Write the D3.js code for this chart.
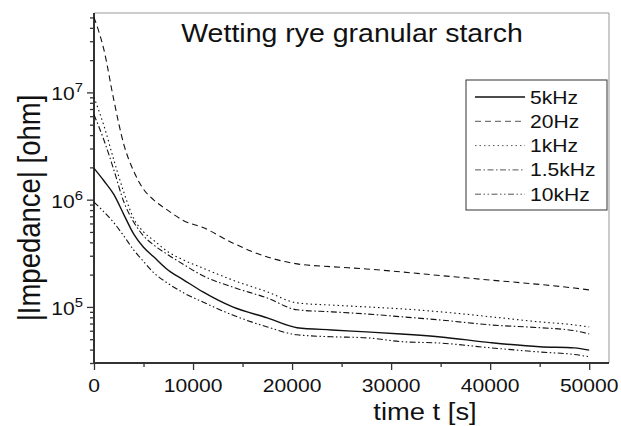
<!DOCTYPE html>
<html>
<head>
<meta charset="utf-8">
<script src="https://cdn.jsdelivr.net/npm/d3@7"></script>
<style>
  body { margin: 0; background: #fff; }
  text { font-family: "Liberation Sans", Arial, sans-serif; fill: #111; }
</style>
</head>
<body>
<div id="canvas"></div>
<script>
"use strict"

/* Data */
let times = [0, 1000, 2000, 3000, 4000, 5000, 6000, 7500, 9000, 11000, 14000,
    17500, 20500, 24000, 27500, 31000, 35000, 40000, 45000, 48500, 50000];
let z5kHz = [1.96e6, 1.5e6, 1.12e6, 7.3e5, 4.8e5, 3.6e5, 2.95e5, 2.2e5, 1.8e5, 1.38e5, 1.0e5,
    7.9e4, 6.4e4, 6.1e4, 5.85e4, 5.6e4, 5.25e4, 4.65e4, 4.25e4, 4.15e4, 3.95e4];
let z20Hz = [5.0e7, 2.5e7, 8.5e6, 3.3e6, 1.85e6, 1.25e6, 1.0e6, 7.9e5, 6.4e5, 5.5e5, 3.95e5,
    2.92e5, 2.52e5, 2.37e5, 2.26e5, 2.12e5, 1.96e5, 1.78e5, 1.62e5, 1.5e5, 1.44e5];
let z1kHz = [9.0e6, 4.9e6, 2.35e6, 1.18e6, 6.7e5, 5.0e5, 4.2e5, 3.25e5, 2.75e5, 2.3e5, 1.78e5,
    1.38e5, 1.09e5, 1.04e5, 1.0e5, 9.6e4, 9.0e4, 8.1e4, 7.25e4, 6.8e4, 6.5e4];
let z15kHz = [6.2e6, 3.6e6, 1.9e6, 9.6e5, 6.2e5, 4.6e5, 3.8e5, 3.05e5, 2.5e5, 1.95e5, 1.53e5,
    1.21e5, 9.4e4, 9.0e4, 8.6e4, 8.1e4, 7.55e4, 6.8e4, 6.4e4, 6.0e4, 5.6e4];
let z10kHz = [9.5e5, 7.7e5, 6.1e5, 4.6e5, 3.4e5, 2.65e5, 2.1e5, 1.65e5, 1.36e5, 1.11e5, 8.4e4,
    6.5e4, 5.5e4, 5.27e4, 5.15e4, 4.75e4, 4.6e4, 4.16e4, 3.8e4, 3.6e4, 3.43e4];
let seriesNames = ["5kHz", "20Hz", "1kHz", "1.5kHz", "10kHz"];
let seriesValues = [z5kHz, z20Hz, z1kHz, z15kHz, z10kHz];
let xTicks = [0, 10000, 20000, 30000, 40000, 50000];
let yTickExp = [5, 6, 7];

/* Drawing configuration */
let svgWidth = 621;
let svgHeight = 426;
let plotLeft = 94, plotRight = 609, plotTop = 13, plotBottom = 363;
let sx = 1.14; // the reference text is stretched horizontally
let dashes = [null, "6,4", "1.5,3", "6,2.5,1.5,2.5", "6,2.5,1.5,2.5,1.5,2.5"];

let svg = d3.select("#canvas")
    .append("svg")
    .attr("width", svgWidth)
    .attr("height", svgHeight);

let xScale = d3.scaleLinear()
    .domain([0, 52000])
    .range([plotLeft, plotRight]);

let yScale = d3.scaleLog()
    .domain([3e4, 5.5e7])
    .range([plotBottom, plotTop]);

/* helper for stretched text */
function label(x, y, str, size, anchor) {
    return svg.append("text")
        .attr("transform", "translate(" + x + "," + y + ") scale(" + sx + ",1)")
        .attr("text-anchor", anchor)
        .style("font-size", size + "px")
        .text(str);
}

/* frame: top and right thin grey */
svg.append("line").attr("x1", plotLeft).attr("x2", plotRight).attr("y1", plotTop).attr("y2", plotTop)
    .attr("stroke", "#999").attr("stroke-width", 1);
svg.append("line").attr("x1", plotRight).attr("x2", plotRight).attr("y1", plotTop).attr("y2", plotBottom)
    .attr("stroke", "#999").attr("stroke-width", 1);

/* x axis, major and minor ticks */
let xMinor = d3.range(5000, 50001, 10000);
svg.append("g")
    .attr("transform", "translate(0," + plotBottom + ")")
    .call(d3.axisBottom(xScale).tickValues(xMinor).tickSize(4).tickSizeOuter(0).tickFormat(""))
    .call(g => g.select(".domain").remove());
svg.append("g")
    .attr("transform", "translate(0," + plotBottom + ")")
    .call(d3.axisBottom(xScale).tickValues(xTicks).tickSize(7).tickSizeOuter(0).tickFormat(""))
    .call(g => g.select(".domain").remove());

/* y axis, major and minor ticks */
let yMinor = [];
[4, 5, 6, 7].forEach(function (e) {
    for (let m = 2; m <= 9; m++) {
        let v = m * Math.pow(10, e);
        if (v >= 3e4 && v <= 5.5e7) yMinor.push(v);
    }
});
svg.append("g")
    .attr("transform", "translate(" + plotLeft + ",0)")
    .call(d3.axisLeft(yScale).tickValues(yMinor).tickSize(4).tickSizeOuter(0).tickFormat(""))
    .call(g => g.select(".domain").remove());
svg.append("g")
    .attr("transform", "translate(" + plotLeft + ",0)")
    .call(d3.axisLeft(yScale).tickValues(yTickExp.map(e => Math.pow(10, e))).tickSize(7).tickSizeOuter(0).tickFormat(""))
    .call(g => g.select(".domain").remove());

svg.selectAll(".tick line").attr("stroke", "#333").attr("stroke-width", 1.3);

/* left and bottom axis lines */
svg.append("line").attr("x1", plotLeft).attr("x2", plotLeft).attr("y1", plotTop).attr("y2", plotBottom + 1)
    .attr("stroke", "#333").attr("stroke-width", 2);
svg.append("line").attr("x1", plotLeft - 1).attr("x2", plotRight).attr("y1", plotBottom).attr("y2", plotBottom)
    .attr("stroke", "#333").attr("stroke-width", 2);

/* tick labels */
xTicks.forEach(function (v) {
    label(xScale(v), plotBottom + 29, String(v), 18.5, "middle");
});
yTickExp.forEach(function (e) {
    let t = label(83, yScale(Math.pow(10, e)) + 8, "", 18.5, "end");
    t.append("tspan").text("10");
    t.append("tspan").attr("dy", -8).style("font-size", "13px").text(String(e));
});

/* axis titles and chart title */
label(425, 420, "time t [s]", 24, "middle");
svg.append("text")
    .attr("transform", "translate(40,208) scale(" + sx + ",1) rotate(-90)")
    .attr("text-anchor", "middle")
    .style("font-size", "27.5px")
    .text("|Impedance| [ohm]");
label(352, 42, "Wetting rye granular starch", 25, "middle");

/* curves */
let line = d3.line()
    .x(function (d, i) { return xScale(times[i]); })
    .y(function (d) { return yScale(d); })
    .curve(d3.curveMonotoneX);

for (let i = 0; i < seriesValues.length; i++) {
    svg.append("path")
        .attr("d", line(seriesValues[i]))
        .attr("fill", "none")
        .attr("stroke", "#111")
        .attr("stroke-width", i == 0 ? 1.4 : 1.1)
        .attr("stroke-dasharray", dashes[i]);
}

/* legend */
svg.append("rect")
    .attr("x", 466)
    .attr("y", 80)
    .attr("width", 141)
    .attr("height", 130)
    .attr("fill", "white")
    .attr("stroke", "#333")
    .attr("stroke-width", 1);

for (let i = 0; i < seriesNames.length; i++) {
    let ry = 97 + i * 24.3;
    svg.append("line")
        .attr("x1", 475)
        .attr("x2", 525)
        .attr("y1", ry)
        .attr("y2", ry)
        .attr("stroke", i == 0 ? "#111" : "#555")
        .attr("stroke-width", i == 0 ? 1.4 : 1)
        .attr("stroke-dasharray", dashes[i]);
    label(530, ry + 6.5, seriesNames[i], 18.5, "start");
}
</script>
</body>
</html>
